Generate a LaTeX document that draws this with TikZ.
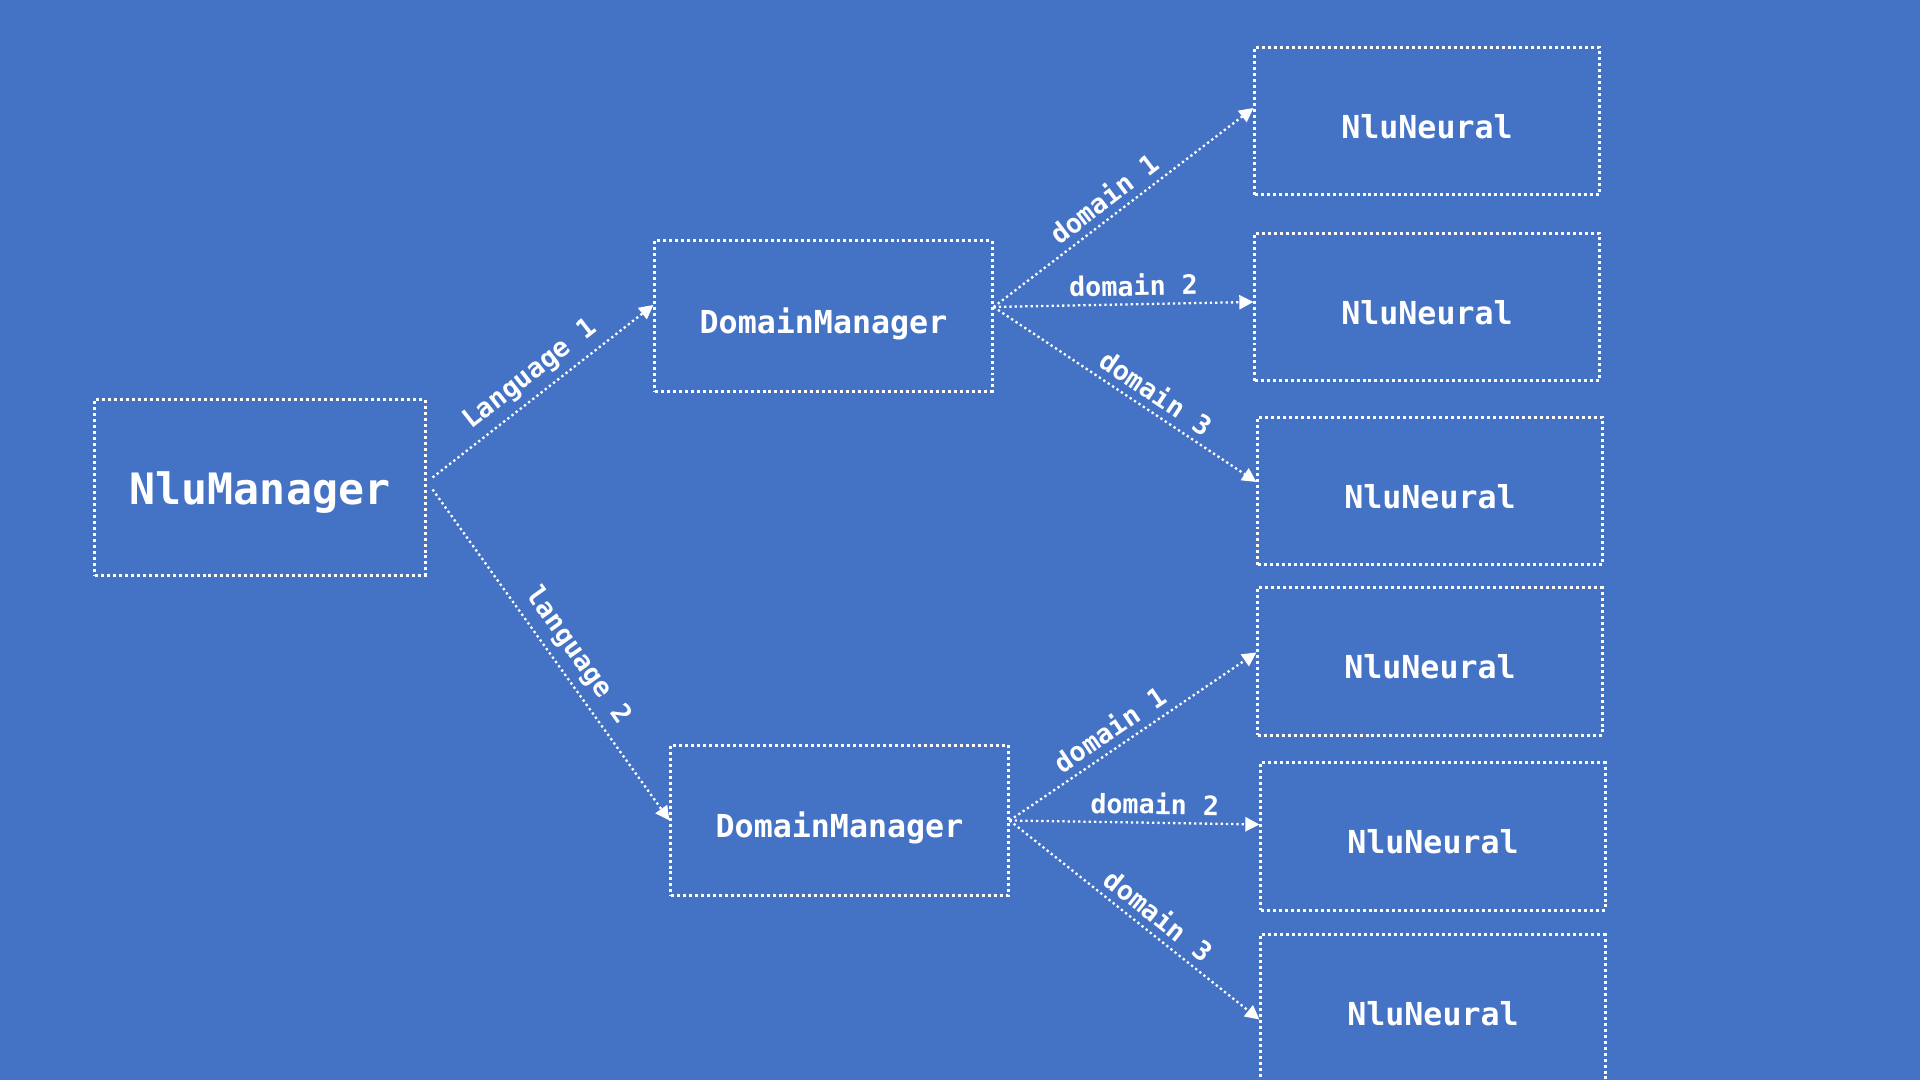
\documentclass[tikz,border=0pt]{standalone}
\usepackage{fontspec}
\setmonofont{DejaVu Sans Mono}
\usepackage{tikz}
\usetikzlibrary{arrows.meta,positioning,calc}
\definecolor{slideblue}{RGB}{68,114,196}

\begin{document}
\begin{tikzpicture}[x=0.01cm, y=0.01cm,
    unitbox/.style={draw=white, line width=0.85pt, dash pattern=on 0.85pt off 0.85pt,
        inner sep=0pt, text=white, text height=0.98em, text depth=0pt,
        font=\ttfamily\bfseries\fontsize{9}{11}\selectfont},
    arrowline/.style={white, line width=0.65pt, dash pattern=on 0.65pt off 0.85pt,
        -{Triangle[length=4pt,width=4pt]}},
    edgelabel/.style={sloped, above, inner sep=2pt, text=white,
        font=\ttfamily\bfseries\fontsize{7.6}{9}\selectfont}]

% Background of the slide
\fill[slideblue] (0,0) rectangle (1920,1080);
\useasboundingbox (0,0) rectangle (1920,1080);

% Top level manager
\node[unitbox, minimum width=3.3cm, minimum height=1.75cm,
      font=\ttfamily\bfseries\fontsize{12.3}{14}\selectfont] (nm) at (260,592.5) {NluManager};

% One domain manager per language
\node[unitbox, minimum width=3.37cm, minimum height=1.5cm] (dm1) at (823.5,764) {DomainManager};
\node[unitbox, minimum width=3.37cm, minimum height=1.5cm] (dm2) at (839.5,259.5) {DomainManager};

% Neural models, one per domain
\foreach \name/\x/\y in {nn1/1427/959, nn2/1427/773, nn3/1430/589,
                         nn4/1430/418.5, nn5/1433/243.5, nn6/1433/71.5} {
    \node[unitbox, minimum width=3.44cm, minimum height=1.47cm] (\name) at (\x,\y) {NluNeural};
}

% Language arrows
\draw[arrowline] ([shift={(6,10)}]nm.east) -- ([yshift=0.11cm]dm1.west)
    node[edgelabel, pos=0.5] {Language 1};
\draw[arrowline] ([shift={(6,-2)}]nm.east) -- (dm2.west)
    node[edgelabel, pos=0.54] {language 2};

% Domain arrows, first language
\foreach \t/\dy/\p/\lab in {nn1/13/0.47/domain 1, nn2/5/0.54/domain 2, nn3/9/0.58/domain 3} {
    \draw[arrowline] ([yshift=0.09cm]dm1.east) -- ([yshift=\dy*0.01cm]\t.west)
        node[edgelabel, pos=\p] {\lab};
}

% Domain arrows, second language
\foreach \t/\dy/\p/\lab in {nn4/9/0.45/domain 1, nn5/12/0.58/domain 2, nn6/-11/0.55/domain 3} {
    \draw[arrowline] (dm2.east) -- ([yshift=\dy*0.01cm]\t.west)
        node[edgelabel, pos=\p] {\lab};
}

\end{tikzpicture}
\end{document}
